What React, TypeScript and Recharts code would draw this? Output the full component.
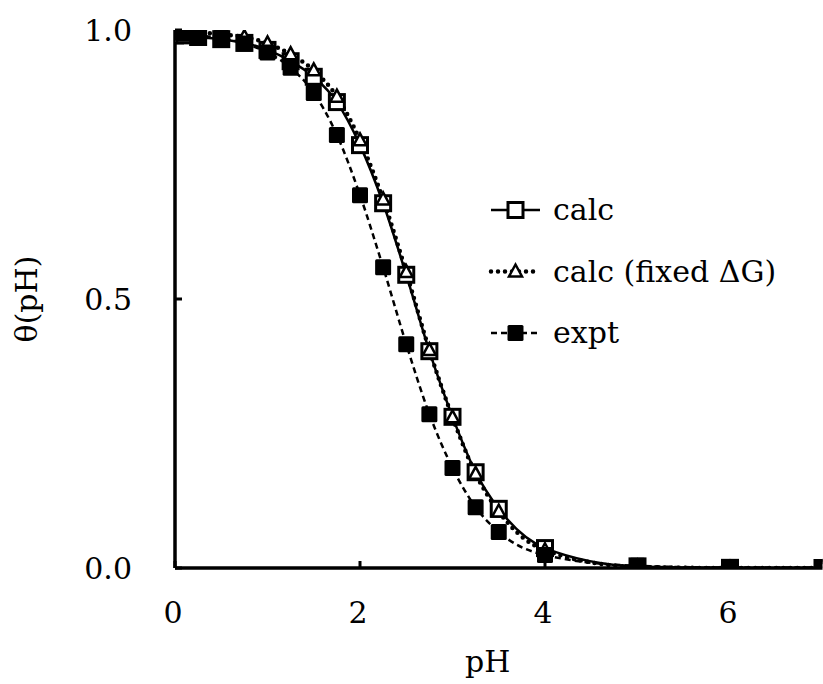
import { LineChart, Line, XAxis, YAxis } from "recharts";

const phValues = [0, 0.1, 0.25, 0.5, 0.75, 1.0, 1.25, 1.5, 1.75, 2.0, 2.25, 2.5, 2.75, 3.0, 3.25, 3.5, 4, 5, 6, 7];
const calcTheta = [0.99, 0.99, 0.987, 0.983, 0.976, 0.963, 0.942, 0.913, 0.866, 0.786, 0.678, 0.545, 0.403, 0.281, 0.178, 0.11, 0.037, 0.003, 0.0003, 0];
const fixedTheta = [1.0, 0.998, 0.996, 0.992, 0.987, 0.975, 0.955, 0.925, 0.876, 0.795, 0.685, 0.55, 0.405, 0.28, 0.175, 0.105, 0.033, 0.002, 0, 0];
const exptTheta = [0.995, 0.993, 0.99, 0.985, 0.975, 0.958, 0.93, 0.883, 0.805, 0.693, 0.559, 0.416, 0.286, 0.186, 0.113, 0.067, 0.024, 0.004, 0.001, 0.001];
const xTicks = [0, 2, 4, 6];
const yTicks = [0, 0.5, 1.0];

const data = phValues.map((ph, i) => ({
  ph,
  calc: calcTheta[i],
  fixed: fixedTheta[i],
  expt: exptTheta[i],
}));

const FONT = "'DejaVu Serif', serif";
const FS = 30;

const OpenSquare = (props: any) => {
  const { cx, cy, index } = props;
  if (cx == null || cy == null) return <g key={`c-${index}`} />;
  return <rect key={`c-${index}`} x={cx - 7.5} y={cy - 7.5} width={15} height={15} fill="#fff" stroke="#000" strokeWidth={3} />;
};

const OpenTriangle = (props: any) => {
  const { cx, cy, index } = props;
  if (cx == null || cy == null) return <g key={`f-${index}`} />;
  return (
    <path key={`f-${index}`} d={`M${cx},${cy - 7} L${cx + 6.5},${cy + 5} L${cx - 6.5},${cy + 5} Z`} fill="#fff" stroke="#000" strokeWidth={2.5} />
  );
};

const FilledSquare = (props: any) => {
  const { cx, cy, index } = props;
  if (cx == null || cy == null) return <g key={`e-${index}`} />;
  return <rect key={`e-${index}`} x={cx - 8} y={cy - 8} width={16} height={16} fill="#000" rx={1.5} />;
};

const XTick = ({ x, y, payload }: any) => (
  <g>
    <line x1={x} x2={x} y1={y} y2={y - 7} stroke="#000" strokeWidth={3} />
    <text x={x - 2} y={y + 55} textAnchor="middle" fontFamily={FONT} fontSize={FS} fill="#000">
      {payload.value}
    </text>
  </g>
);

const YTick = ({ x, y, payload }: any) => (
  <g>
    <line x1={x} x2={x + 7} y1={y} y2={y} stroke="#000" strokeWidth={3} />
    <text x={x - 43} y={y + 11} textAnchor="end" fontFamily={FONT} fontSize={FS} fill="#000">
      {Number(payload.value).toFixed(1)}
    </text>
  </g>
);

const legendRows = [
  { label: "calc", dash: undefined, width: 2.5, cap: "butt", marker: "square" },
  { label: "calc (fixed \u0394G)", dash: "0 7", width: 4.5, cap: "round", marker: "triangle" },
  { label: "expt", dash: "6 4", width: 2.5, cap: "butt", marker: "filled" },
];

const ChartLegend = () => (
  <svg width={320} height={190} style={{ position: "absolute", left: 488, top: 190, overflow: "visible" }}>
    {legendRows.map((r, i) => {
      const cy = 20 + i * 61.5;
      return (
        <g key={r.label}>
          <line x1={3} x2={52} y1={cy} y2={cy} stroke="#000" strokeWidth={r.width} strokeDasharray={r.dash} strokeLinecap={r.cap as any} />
          {r.marker === "square" && <rect x={20} y={cy - 7.5} width={15} height={15} fill="#fff" stroke="#000" strokeWidth={3} />}
          {r.marker === "triangle" && (
            <path d={`M27.5,${cy - 7} L34,${cy + 5} L21,${cy + 5} Z`} fill="#fff" stroke="#000" strokeWidth={2.5} />
          )}
          {r.marker === "filled" && <rect x={19.5} y={cy - 8} width={16} height={16} fill="#000" rx={1.5} />}
          <text x={65} y={cy + 10} fontFamily={FONT} fontSize={FS} fill="#000">
            {r.label}
          </text>
        </g>
      );
    })}
  </svg>
);

export default function App() {
  return (
    <div style={{ position: "absolute", left: 0, top: 0, width: 823, height: 684, background: "#fff", overflow: "hidden" }}>
      <LineChart width={823} height={684} data={data} margin={{ top: 30, right: 0.5, bottom: 0, left: 0 }}>
        <XAxis
          dataKey="ph"
          type="number"
          domain={[0, 7]}
          ticks={xTicks}
          tick={<XTick />}
          tickSize={0}
          tickMargin={0}
          height={116}
          axisLine={{ stroke: "#000", strokeWidth: 3.5 }}
          tickLine={false}
          allowDataOverflow
          label={{ value: "pH", position: "insideBottom", offset: 12, fontFamily: FONT, fontSize: FS, fill: "#000", dx: -11 }}
        />
        <YAxis
          type="number"
          domain={[0, 1]}
          ticks={yTicks}
          tick={<YTick />}
          tickSize={0}
          tickMargin={0}
          width={175}
          axisLine={{ stroke: "#000", strokeWidth: 3.5 }}
          tickLine={false}
          allowDataOverflow
          label={{ value: "\u03b8(pH)", angle: -90, position: "insideLeft", offset: 26, fontFamily: FONT, fontSize: FS, fill: "#000", style: { textAnchor: "middle" } }}
        />
        <Line type="monotone" dataKey="calc" stroke="#000" strokeWidth={2.5} dot={OpenSquare} activeDot={false} isAnimationActive={false} />
        <Line type="monotone" dataKey="fixed" stroke="#000" strokeWidth={4.5} strokeDasharray="0 7" strokeLinecap="round" dot={OpenTriangle} activeDot={false} isAnimationActive={false} />
        <Line type="monotone" dataKey="expt" stroke="#000" strokeWidth={2.5} strokeDasharray="6 4" dot={FilledSquare} activeDot={false} isAnimationActive={false} />
      </LineChart>
      <ChartLegend />
    </div>
  );
}
